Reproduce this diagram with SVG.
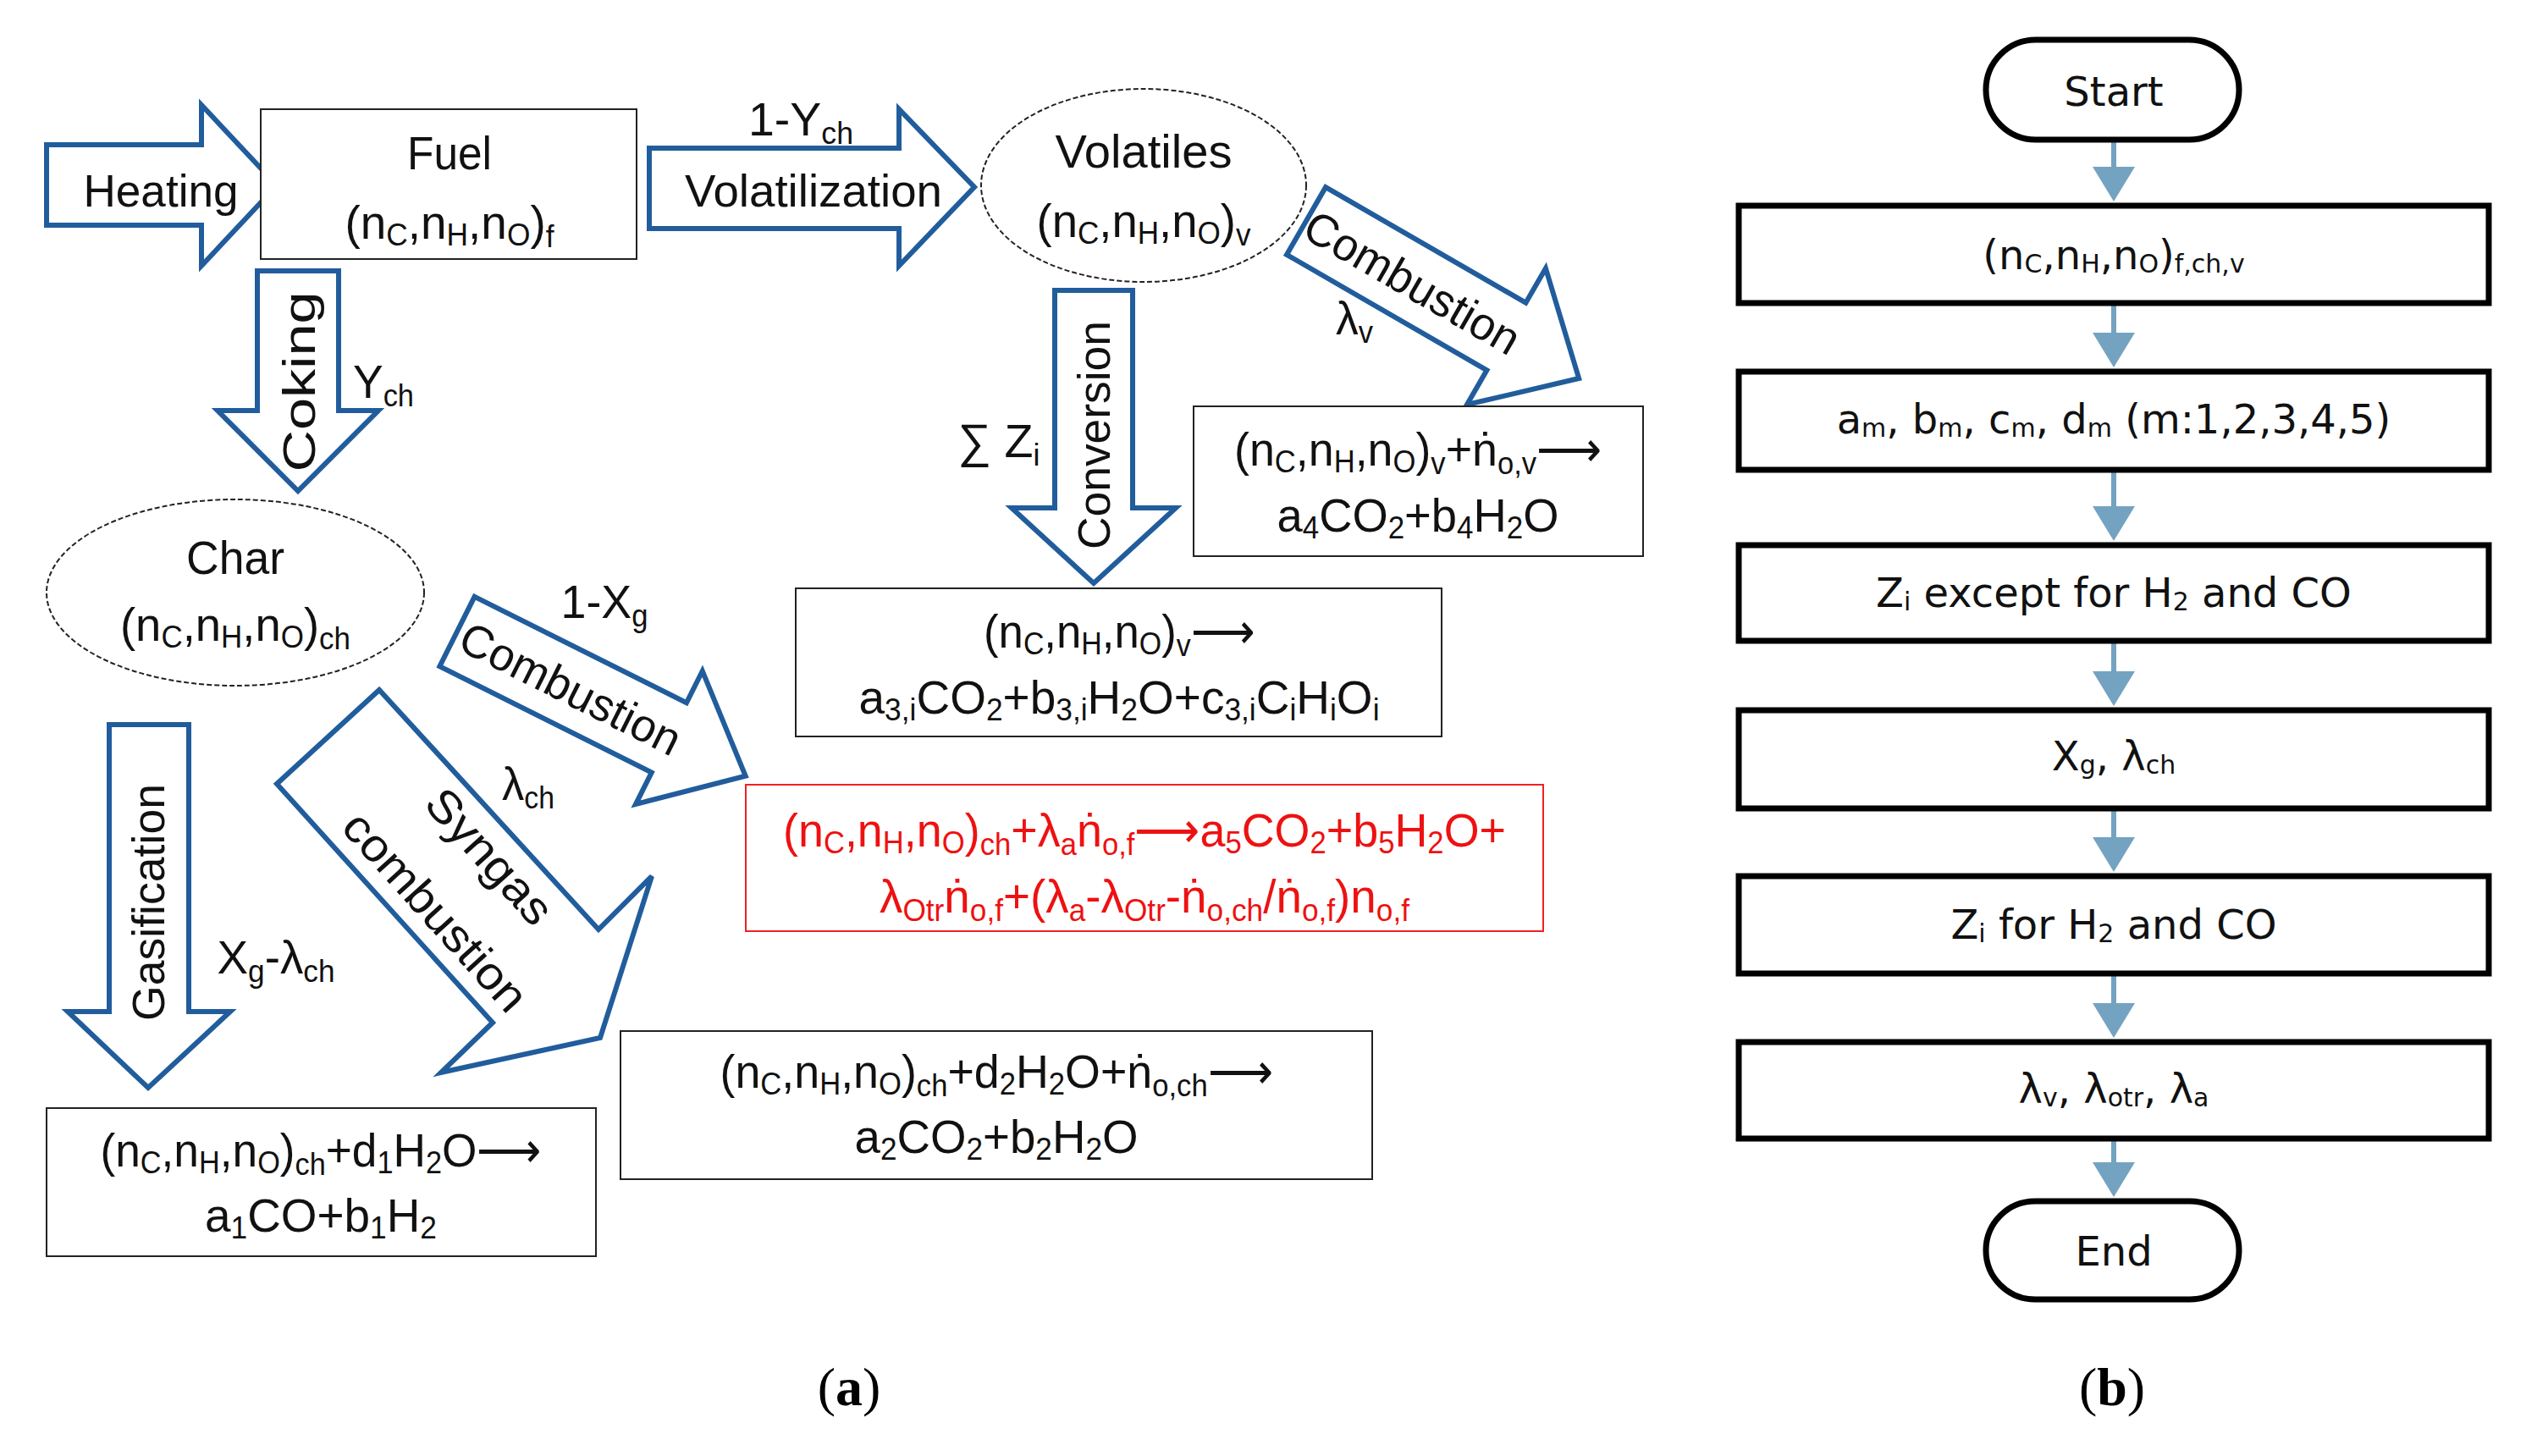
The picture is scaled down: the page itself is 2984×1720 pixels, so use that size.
<svg xmlns="http://www.w3.org/2000/svg" width="2984" height="1720" viewBox="0 0 2984 1720">
<style>
.ar{fill:#fff;stroke:#215d9c;stroke-width:6;stroke-linejoin:miter}
.bx{fill:#fff;stroke:#222;stroke-width:2}
.el{fill:#fff;stroke:#222;stroke-width:2;stroke-dasharray:6 3}
.t{font-family:"Liberation Sans",Arial,sans-serif;font-size:56px;fill:#111;text-anchor:middle}
.r{fill:#ee1111}
.w{font-family:"Liberation Sans",Arial,sans-serif;font-size:54px;fill:#111;text-anchor:middle}
.s{font-size:36px}
.fb{fill:#fff;stroke:#000;stroke-width:7}
.ft{font-family:"DejaVu Sans",Verdana,sans-serif;font-size:48px;fill:#111;text-anchor:middle}
.fs{font-size:30px}
.cap{font-family:"Liberation Serif","Times New Roman",serif;font-size:64px;fill:#000;text-anchor:middle}
.fa{fill:#74a3c2}
</style>
<defs>
<marker id="m" markerWidth="10" markerHeight="10" refX="5" refY="5" orient="auto"><path d="M0,0L10,5L0,10z" fill="#74a3c2"/></marker>
</defs>

<g id="connectors">
<g id="heating"><polygon class="ar" points="55,171 238,171 238,124 327,219 238,314 238,266 55,266"/><text class="w" x="190" y="244" textLength="183" lengthAdjust="spacingAndGlyphs">Heating</text></g>
<g id="volatilization"><polygon class="ar" points="767,175 1062,175 1062,129 1151,221 1062,314 1062,270 767,270"/>
<text class="t" x="946" y="160" textLength="124" lengthAdjust="spacingAndGlyphs">1-Y<tspan class="s" dy="10">ch</tspan></text>
<text class="w" x="961" y="244" textLength="304" lengthAdjust="spacingAndGlyphs">Volatilization</text></g>
<g id="coking"><polygon class="ar" points="304,320 400,320 400,485 447,485 352,580 257,485 304,485"/>
<text class="w" transform="translate(372,451) rotate(-90)" x="0" y="0" textLength="213" lengthAdjust="spacingAndGlyphs">Coking</text>
<text class="t" x="453" y="470" textLength="72" lengthAdjust="spacingAndGlyphs">Y<tspan class="s" dy="10">ch</tspan></text></g>
<g id="conversion"><polygon class="ar" points="1246,343 1338,343 1338,600 1389,600 1292,689 1195,600 1246,600"/>
<text class="w" transform="translate(1311,514) rotate(-90)" x="0" y="0" textLength="270" lengthAdjust="spacingAndGlyphs">Conversion</text>
<text class="t" x="1180" y="540" textLength="97" lengthAdjust="spacingAndGlyphs">∑ Z<tspan class="s" dy="10">i</tspan></text></g>
<g id="combustion-v"><polygon class="ar" transform="translate(1543,261) rotate(30)" points="0,-46 273,-46 273,-93 372,0 273,93 273,46 0,46"/>
<text class="w" transform="translate(1543,261) rotate(30)" x="145" y="19" textLength="285" lengthAdjust="spacingAndGlyphs">Combustion</text>
<text class="t" x="1600" y="395" textLength="44" lengthAdjust="spacingAndGlyphs">λ<tspan class="s" dy="10">v</tspan></text></g>
<g id="combustion-ch"><polygon class="ar" transform="translate(540,746) rotate(26.6)" points="0,-46 280,-46 280,-88 381,0 280,88 280,46 0,46"/>
<text class="w" transform="translate(540,746) rotate(26.6)" x="150" y="19" textLength="285" lengthAdjust="spacingAndGlyphs">Combustion</text>
<text class="t" x="714" y="730" textLength="103" lengthAdjust="spacingAndGlyphs">1-X<tspan class="s" dy="10">g</tspan></text>
<text class="t" x="624" y="945" textLength="62" lengthAdjust="spacingAndGlyphs">λ<tspan class="s" dy="10">ch</tspan></text></g>
<g id="syngas"><polygon class="ar" points="448,815 327,926 582,1208 521,1267 709,1226 770,1035 707,1098"/>
<text class="w" transform="translate(578,1012) rotate(48)" x="0" y="18" textLength="196" lengthAdjust="spacingAndGlyphs">Syngas</text>
<text class="w" transform="translate(514,1077) rotate(48)" x="0" y="18" textLength="297" lengthAdjust="spacingAndGlyphs">combustion</text></g>
<g id="gasification"><polygon class="ar" points="129,856 223,856 223,1195 272,1195 175,1285 80,1195 129,1195"/>
<text class="w" transform="translate(194,1066) rotate(-90)" x="0" y="0" textLength="280" lengthAdjust="spacingAndGlyphs">Gasification</text>
<text class="t" x="326" y="1150" textLength="139" lengthAdjust="spacingAndGlyphs">X<tspan class="s" dy="10">g</tspan><tspan dy="-10">-λ</tspan><tspan class="s" dy="10">ch</tspan></text></g>
<g id="flow-arrows" stroke="#74a3c2" stroke-width="6" fill="none">
<line x1="2497" y1="167" x2="2497" y2="205"/><polygon class="fa" stroke="none" points="2472,197 2522,197 2497,238"/>
<line x1="2497" y1="360" x2="2497" y2="400"/><polygon class="fa" stroke="none" points="2472,393 2522,393 2497,434"/>
<line x1="2497" y1="557" x2="2497" y2="605"/><polygon class="fa" stroke="none" points="2472,598 2522,598 2497,639"/>
<line x1="2497" y1="759" x2="2497" y2="800"/><polygon class="fa" stroke="none" points="2472,793 2522,793 2497,834"/>
<line x1="2497" y1="957" x2="2497" y2="996"/><polygon class="fa" stroke="none" points="2472,989 2522,989 2497,1030"/>
<line x1="2497" y1="1152" x2="2497" y2="1192"/><polygon class="fa" stroke="none" points="2472,1185 2522,1185 2497,1226"/>
<line x1="2497" y1="1347" x2="2497" y2="1380"/><polygon class="fa" stroke="none" points="2472,1373 2522,1373 2497,1414"/>
</g>
</g>

<g id="fuel"><rect class="bx" x="308" y="129" width="444" height="177"/>
<text class="t" x="531" y="200" textLength="100" lengthAdjust="spacingAndGlyphs">Fuel</text>
<text class="t" x="531" y="282" textLength="247" lengthAdjust="spacingAndGlyphs">(n<tspan class="s" dy="8">C</tspan><tspan dy="-8">,n</tspan><tspan class="s" dy="8">H</tspan><tspan dy="-8">,n</tspan><tspan class="s" dy="8">O</tspan><tspan dy="-8">)</tspan><tspan class="s" dy="10">f</tspan></text></g>
<g id="volatiles"><ellipse class="el" cx="1351" cy="219" rx="192" ry="114"/>
<text class="t" x="1351" y="198" textLength="209" lengthAdjust="spacingAndGlyphs">Volatiles</text>
<text class="t" x="1351" y="280" textLength="253" lengthAdjust="spacingAndGlyphs">(n<tspan class="s" dy="8">C</tspan><tspan dy="-8">,n</tspan><tspan class="s" dy="8">H</tspan><tspan dy="-8">,n</tspan><tspan class="s" dy="8">O</tspan><tspan dy="-8">)</tspan><tspan class="s" dy="10">v</tspan></text></g>
<g id="v-combustion"><rect class="bx" x="1410" y="480" width="531" height="177"/>
<text class="t" x="1675" y="550" textLength="434" lengthAdjust="spacingAndGlyphs">(n<tspan class="s" dy="8">C</tspan><tspan dy="-8">,n</tspan><tspan class="s" dy="8">H</tspan><tspan dy="-8">,n</tspan><tspan class="s" dy="8">O</tspan><tspan dy="-8">)</tspan><tspan class="s" dy="10">v</tspan><tspan dy="-10">+ṅ</tspan><tspan class="s" dy="10">o,v</tspan><tspan dy="-10">⟶</tspan></text>
<text class="t" x="1675" y="628" textLength="333" lengthAdjust="spacingAndGlyphs">a<tspan class="s" dy="8">4</tspan><tspan dy="-8">CO</tspan><tspan class="s" dy="8">2</tspan><tspan dy="-8">+b</tspan><tspan class="s" dy="8">4</tspan><tspan dy="-8">H</tspan><tspan class="s" dy="8">2</tspan><tspan dy="-8">O</tspan></text></g>
<g id="char"><ellipse class="el" cx="278" cy="700" rx="223" ry="110"/>
<text class="t" x="278" y="678" textLength="116" lengthAdjust="spacingAndGlyphs">Char</text>
<text class="t" x="278" y="757" textLength="272" lengthAdjust="spacingAndGlyphs">(n<tspan class="s" dy="8">C</tspan><tspan dy="-8">,n</tspan><tspan class="s" dy="8">H</tspan><tspan dy="-8">,n</tspan><tspan class="s" dy="8">O</tspan><tspan dy="-8">)</tspan><tspan class="s" dy="10">ch</tspan></text></g>
<g id="v-conversion"><rect class="bx" x="940" y="695" width="763" height="175"/>
<text class="t" x="1322" y="765" textLength="320" lengthAdjust="spacingAndGlyphs">(n<tspan class="s" dy="8">C</tspan><tspan dy="-8">,n</tspan><tspan class="s" dy="8">H</tspan><tspan dy="-8">,n</tspan><tspan class="s" dy="8">O</tspan><tspan dy="-8">)</tspan><tspan class="s" dy="10">v</tspan><tspan dy="-10">⟶</tspan></text>
<text class="t" x="1322" y="843" textLength="615" lengthAdjust="spacingAndGlyphs">a<tspan class="s" dy="8">3,i</tspan><tspan dy="-8">CO</tspan><tspan class="s" dy="8">2</tspan><tspan dy="-8">+b</tspan><tspan class="s" dy="8">3,i</tspan><tspan dy="-8">H</tspan><tspan class="s" dy="8">2</tspan><tspan dy="-8">O+c</tspan><tspan class="s" dy="8">3,i</tspan><tspan dy="-8">C</tspan><tspan class="s" dy="8">i</tspan><tspan dy="-8">H</tspan><tspan class="s" dy="8">i</tspan><tspan dy="-8">O</tspan><tspan class="s" dy="8">i</tspan></text></g>
<g id="ch-combustion"><rect x="881" y="927" width="942" height="173" fill="#fff" stroke="#ee2222" stroke-width="2"/>
<text class="t r" x="1352" y="1000" textLength="854" lengthAdjust="spacingAndGlyphs">(n<tspan class="s" dy="8">C</tspan><tspan dy="-8">,n</tspan><tspan class="s" dy="8">H</tspan><tspan dy="-8">,n</tspan><tspan class="s" dy="8">O</tspan><tspan dy="-8">)</tspan><tspan class="s" dy="10">ch</tspan><tspan dy="-10">+λ</tspan><tspan class="s" dy="10">a</tspan><tspan dy="-10">ṅ</tspan><tspan class="s" dy="10">o,f</tspan><tspan dy="-10">⟶a</tspan><tspan class="s" dy="8">5</tspan><tspan dy="-8">CO</tspan><tspan class="s" dy="8">2</tspan><tspan dy="-8">+b</tspan><tspan class="s" dy="8">5</tspan><tspan dy="-8">H</tspan><tspan class="s" dy="8">2</tspan><tspan dy="-8">O+</tspan></text>
<text class="t r" x="1352" y="1078" textLength="626" lengthAdjust="spacingAndGlyphs">λ<tspan class="s" dy="10">Otr</tspan><tspan dy="-10">ṅ</tspan><tspan class="s" dy="10">o,f</tspan><tspan dy="-10">+(λ</tspan><tspan class="s" dy="10">a</tspan><tspan dy="-10">-λ</tspan><tspan class="s" dy="10">Otr</tspan><tspan dy="-10">-ṅ</tspan><tspan class="s" dy="10">o,ch</tspan><tspan dy="-10">/ṅ</tspan><tspan class="s" dy="10">o,f</tspan><tspan dy="-10">)n</tspan><tspan class="s" dy="10">o,f</tspan></text></g>
<g id="ch-gasification"><rect class="bx" x="55" y="1309" width="649" height="175"/>
<text class="t" x="379" y="1378" textLength="521" lengthAdjust="spacingAndGlyphs">(n<tspan class="s" dy="8">C</tspan><tspan dy="-8">,n</tspan><tspan class="s" dy="8">H</tspan><tspan dy="-8">,n</tspan><tspan class="s" dy="8">O</tspan><tspan dy="-8">)</tspan><tspan class="s" dy="10">ch</tspan><tspan dy="-10">+d</tspan><tspan class="s" dy="8">1</tspan><tspan dy="-8">H</tspan><tspan class="s" dy="8">2</tspan><tspan dy="-8">O⟶</tspan></text>
<text class="t" x="379" y="1455" textLength="274" lengthAdjust="spacingAndGlyphs">a<tspan class="s" dy="8">1</tspan><tspan dy="-8">CO+b</tspan><tspan class="s" dy="8">1</tspan><tspan dy="-8">H</tspan><tspan class="s" dy="8">2</tspan></text></g>
<g id="ch-syngas"><rect class="bx" x="733" y="1218" width="888" height="175"/>
<text class="t" x="1177" y="1285" textLength="653" lengthAdjust="spacingAndGlyphs">(n<tspan class="s" dy="8">C</tspan><tspan dy="-8">,n</tspan><tspan class="s" dy="8">H</tspan><tspan dy="-8">,n</tspan><tspan class="s" dy="8">O</tspan><tspan dy="-8">)</tspan><tspan class="s" dy="10">ch</tspan><tspan dy="-10">+d</tspan><tspan class="s" dy="8">2</tspan><tspan dy="-8">H</tspan><tspan class="s" dy="8">2</tspan><tspan dy="-8">O+ṅ</tspan><tspan class="s" dy="10">o,ch</tspan><tspan dy="-10">⟶</tspan></text>
<text class="t" x="1177" y="1362" textLength="335" lengthAdjust="spacingAndGlyphs">a<tspan class="s" dy="8">2</tspan><tspan dy="-8">CO</tspan><tspan class="s" dy="8">2</tspan><tspan dy="-8">+b</tspan><tspan class="s" dy="8">2</tspan><tspan dy="-8">H</tspan><tspan class="s" dy="8">2</tspan><tspan dy="-8">O</tspan></text></g>
<text class="cap" x="1003" y="1660"><tspan font-weight="normal">(</tspan><tspan font-weight="bold">a</tspan>)</text>

<g id="start"><rect class="fb" x="2346" y="47" width="299" height="118" rx="59"/><text class="ft" x="2497" y="125" font-size="52">Start</text></g>
<g id="b1"><rect class="fb" x="2054" y="243" width="886" height="115"/><text class="ft" x="2497" y="318">(n<tspan class="fs" dy="4">C</tspan><tspan dy="-4">,n</tspan><tspan class="fs" dy="4">H</tspan><tspan dy="-4">,n</tspan><tspan class="fs" dy="4">O</tspan><tspan dy="-4">)</tspan><tspan class="fs" dy="4">f,ch,v</tspan></text></g>
<g id="b2"><rect class="fb" x="2054" y="439" width="886" height="116"/><text class="ft" x="2497" y="512">a<tspan class="fs" dy="4">m</tspan><tspan dy="-4">, b</tspan><tspan class="fs" dy="4">m</tspan><tspan dy="-4">, c</tspan><tspan class="fs" dy="4">m</tspan><tspan dy="-4">, d</tspan><tspan class="fs" dy="4">m</tspan><tspan dy="-4"> (m:1,2,3,4,5)</tspan></text></g>
<g id="b3"><rect class="fb" x="2054" y="644" width="886" height="113"/><text class="ft" x="2497" y="717">Z<tspan class="fs" dy="4">i</tspan><tspan dy="-4"> except for H</tspan><tspan class="fs" dy="4">2</tspan><tspan dy="-4"> and CO</tspan></text></g>
<g id="b4"><rect class="fb" x="2054" y="839" width="886" height="116"/><text class="ft" x="2497" y="910">X<tspan class="fs" dy="4">g</tspan><tspan dy="-4">, λ</tspan><tspan class="fs" dy="4">ch</tspan></text></g>
<g id="b5"><rect class="fb" x="2054" y="1035" width="886" height="115"/><text class="ft" x="2497" y="1109">Z<tspan class="fs" dy="4">i</tspan><tspan dy="-4"> for H</tspan><tspan class="fs" dy="4">2</tspan><tspan dy="-4"> and CO</tspan></text></g>
<g id="b6"><rect class="fb" x="2054" y="1231" width="886" height="114"/><text class="ft" x="2497" y="1303">λ<tspan class="fs" dy="4">v</tspan><tspan dy="-4">, λ</tspan><tspan class="fs" dy="4">otr</tspan><tspan dy="-4">, λ</tspan><tspan class="fs" dy="4">a</tspan></text></g>
<g id="end"><rect class="fb" x="2346" y="1419" width="299" height="116" rx="58"/><text class="ft" x="2497" y="1495" font-size="52">End</text></g>
<text class="cap" x="2495" y="1660">(<tspan font-weight="bold">b</tspan>)</text>
</svg>
